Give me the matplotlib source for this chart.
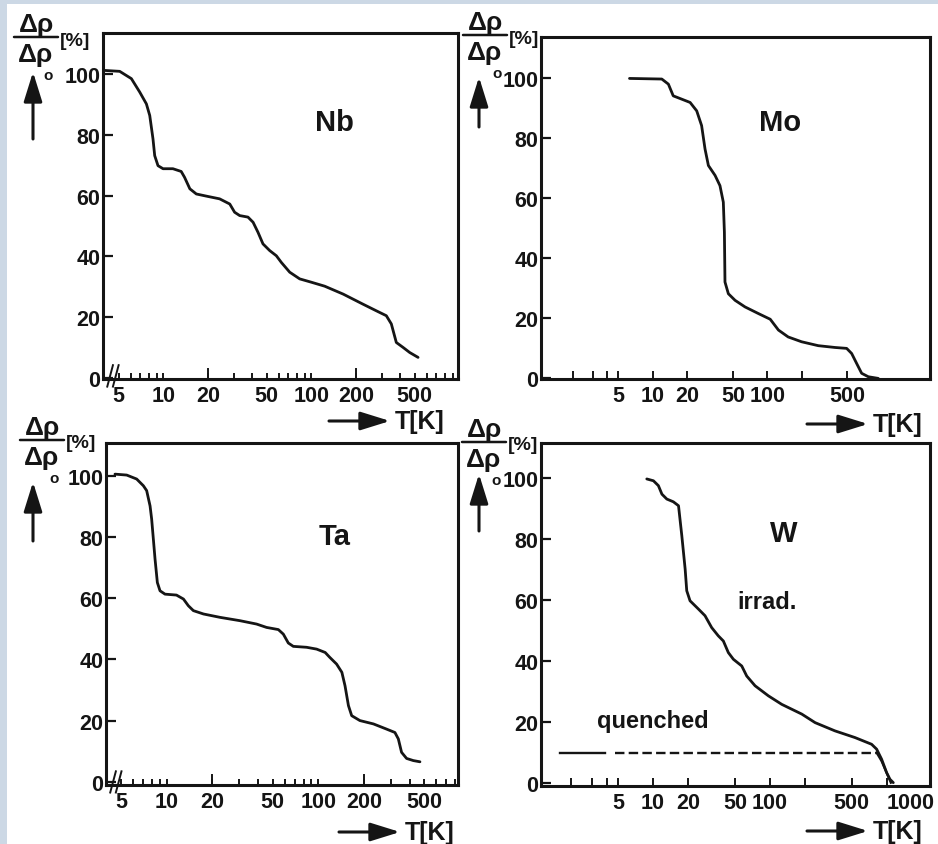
import matplotlib
matplotlib.use('Agg')
import matplotlib.pyplot as plt
import matplotlib.transforms as mtransforms
from matplotlib.patches import Rectangle
from matplotlib.ticker import FixedLocator, NullFormatter

plt.rcParams['font.family'] = ['Liberation Sans', 'DejaVu Sans']
plt.rcParams['font.weight'] = 'bold'

DPI = 100
W_PX, H_PX = 938, 845
INK = '#151515'

# isochronal annealing: annealing temperature T [K] and remaining
# resistivity increment in % of the initial value
nb_T = [4.0, 5.07, 6.08, 6.92, 7.68, 8.09, 8.51, 8.74, 9.20, 9.95,
        11.6, 13.2, 13.9, 15.1, 16.7, 19.5, 24.0, 28.1, 30.3, 32.8,
        37.3, 40.4, 43.6, 47.1, 52.3, 58.0, 62.7, 71.4, 83.4, 100,
        123, 164, 223, 275, 321, 347, 375, 416, 462, 526]
nb_R = [101.1, 100.8, 98.4, 94.0, 90.1, 86.3, 78.6, 73.1, 69.8, 68.8,
        68.8, 67.9, 66.0, 62.2, 60.5, 59.8, 58.9, 57.2, 54.5, 53.4,
        52.9, 51.2, 47.9, 44.1, 41.9, 40.2, 38.0, 34.8, 32.6, 31.5,
        30.2, 27.6, 24.3, 22.1, 20.5, 17.8, 11.7, 10.1, 8.4, 6.8]

mo_T = [6.27, 12.0, 13.7, 15.1, 17.9, 21.2, 24.2, 26.7, 28.6, 30.6,
        35.0, 38.6, 41.3, 42.2, 42.7, 45.7, 52.3, 63.9, 83.5, 106,
        113, 125, 152, 199, 278, 389, 492, 544, 601, 665,
        760, 929]
mo_R = [99.9, 99.7, 98.0, 94.1, 93.0, 91.9, 89.1, 84.2, 76.4, 70.9,
        67.6, 64.2, 58.7, 48.7, 32.1, 28.2, 26.0, 23.8, 21.6, 19.7,
        18.3, 16.1, 13.8, 12.2, 10.9, 10.3, 10.0, 8.3, 5.0, 1.7,
        0.55, 0.0]

ta_T = [4.56, 5.45, 6.34, 7.02, 7.38, 7.77, 7.96, 8.17, 8.38, 8.68,
        9.04, 9.75, 11.6, 12.9, 13.9, 15.0, 17.5, 22.5, 30.5, 39.2,
        45.6, 54.5, 58.8, 63.4, 68.4, 83.7, 97.5, 111, 119, 132,
        143, 150, 158, 166, 188, 231, 282, 320, 337, 354,
        382, 423, 468]
ta_R = [100.7, 100.4, 99.1, 96.9, 95.3, 90.3, 86.0, 79.4, 72.9, 65.2,
        62.5, 61.4, 61.1, 59.8, 57.6, 56.0, 54.9, 53.8, 52.7, 51.6,
        50.5, 49.8, 48.3, 45.4, 44.3, 44.0, 43.4, 42.3, 40.7, 38.5,
        35.8, 31.4, 24.9, 21.6, 20.0, 18.9, 17.2, 16.1, 14.0, 9.6,
        7.6, 6.9, 6.5]

w_T = [8.83, 10.07, 11.1, 11.9, 13.1, 14.9, 16.5, 17.6, 18.8, 19.4,
       20.7, 24.4, 27.8, 31.7, 36.1, 39.9, 44.0, 48.6, 57.3, 63.2,
       74.5, 96.8, 126, 187, 243, 359, 533, 739, 816, 900,
       993, 1061, 1133]
w_R = [99.7, 99.1, 97.5, 94.7, 93.1, 92.2, 90.9, 81.1, 70.1, 63.0,
       59.7, 57.0, 54.8, 50.9, 48.2, 46.5, 42.7, 40.5, 38.3, 35.0,
       31.8, 28.5, 25.7, 22.5, 19.7, 17.0, 14.8, 12.6, 11.0, 7.7,
       3.3, 1.1, 0.0]

# quenched W: flat level, then annealing out above ~800 K
wq_solid_T = [1.60, 3.89]
wq_solid_R = [9.86, 9.86]
wq_dash_T = [4.73, 816]
wq_dash_R = [9.86, 9.86]
wq_tail_T = [816, 900, 993, 1080]
wq_tail_R = [9.86, 7.1, 3.3, 0.0]

y_ticks = [0, 20, 40, 60, 80, 100]
wide_labels = [5, 10, 20, 50, 100, 200, 500]
wide_minor = [6, 7, 8, 9, 30, 40, 60, 70, 80, 90,
              300, 400, 600, 700, 800, 900]
wide_tall = [20, 200]
narrow_labels = [5, 10, 20, 50, 100, 500]
narrow_minor = [2, 3, 4, 200]


fig = plt.figure(figsize=(W_PX / DPI, H_PX / DPI), dpi=DPI,
                 facecolor='#ccd8e5')
fig.patches.append(Rectangle((7 / W_PX, 0), 1, 1 - 5 / H_PX,
                             transform=fig.transFigure, facecolor='white',
                             edgecolor='none', zorder=-5))


def px_box(left, top, right, bottom):
    return [left / W_PX, 1 - bottom / H_PX,
            (right - left) / W_PX, (bottom - top) / H_PX]


def shifted(ax, dx, dy):
    # axes coordinates, moved by a pixel offset
    return ax.transAxes + mtransforms.ScaledTranslation(
        dx / DPI, dy / DPI, fig.dpi_scale_trans)


def frame(ax, xlim, ylim):
    ax.set_xscale('log')
    ax.set_xlim(*xlim)
    ax.set_ylim(*ylim)
    for sp in ax.spines.values():
        sp.set_linewidth(2.2)
        sp.set_color(INK)
    ax.set_yticks(y_ticks)
    ax.set_yticklabels([str(v) for v in y_ticks])
    ax.tick_params(axis='y', direction='in', length=7, width=1.6,
                   pad=2, labelsize=15.5, colors=INK)
    ax.tick_params(axis='x', which='both', direction='in', width=1.4,
                   pad=4, labelsize=15.5, colors=INK)


def wide_axis(ax):
    ax.xaxis.set_major_locator(FixedLocator(wide_labels))
    ax.set_xticklabels([str(v) for v in wide_labels])
    ax.xaxis.set_minor_locator(FixedLocator(wide_minor))
    ax.xaxis.set_minor_formatter(NullFormatter())
    ax.tick_params(axis='x', which='both', length=4)
    # longer marks at 20 and 200
    for v in wide_tall:
        ax.plot([v, v], [0, 0.028], transform=ax.get_xaxis_transform(),
                color=INK, lw=1.4, clip_on=False)
    # axis break near the origin
    for x0 in (0.012, 0.028):
        ax.plot([x0, x0 + 0.016], [-0.022, 0.04], transform=ax.transAxes,
                color=INK, lw=1.4, clip_on=False)


def narrow_axis(ax, labels):
    ax.xaxis.set_major_locator(FixedLocator(labels))
    ax.set_xticklabels([str(v) for v in labels])
    ax.xaxis.set_minor_locator(FixedLocator(narrow_minor))
    ax.xaxis.set_minor_formatter(NullFormatter())
    ax.tick_params(axis='x', which='both', length=6)


def axis_titles(ax, frac_dx, frac_dy, arrow_dx, arrow_y0, arrow_y1,
                t_dx, t_dy):
    # resistivity fraction with [%] and upward arrow at the top left
    ax.text(0, 1, '\u0394\u03c1', transform=shifted(ax, frac_dx, frac_dy + 1),
            ha='center', va='bottom', fontsize=19, color=INK)
    ax.annotate('', xy=(0, 1), xycoords=shifted(ax, frac_dx + 22, frac_dy),
                xytext=(0, 1), textcoords=shifted(ax, frac_dx - 22, frac_dy),
                arrowprops=dict(arrowstyle='-', lw=1.8, color=INK,
                                shrinkA=0, shrinkB=0))
    ax.text(0, 1, '\u0394\u03c1', transform=shifted(ax, frac_dx - 1, frac_dy - 5),
            ha='center', va='top', fontsize=19, color=INK)
    ax.text(0, 1, 'o', transform=shifted(ax, frac_dx + 12, frac_dy - 31),
            ha='center', va='top', fontsize=11, color=INK)
    ax.text(0, 1, '[%]', transform=shifted(ax, frac_dx + 24, frac_dy - 3),
            ha='left', va='center', fontsize=14, color=INK)
    ax.annotate('', xy=(0, 1), xycoords=shifted(ax, arrow_dx, arrow_y1),
                xytext=(0, 1), textcoords=shifted(ax, arrow_dx, arrow_y0),
                arrowprops=dict(arrowstyle='-|>,head_length=0.9,head_width=0.28',
                                mutation_scale=20, lw=2.2, color=INK,
                                shrinkA=0, shrinkB=0))
    # temperature arrow at the bottom right
    ax.annotate('', xy=(1, 0), xycoords=shifted(ax, t_dx - 5, t_dy),
                xytext=(1, 0), textcoords=shifted(ax, t_dx - 66, t_dy),
                arrowprops=dict(arrowstyle='-|>,head_length=0.9,head_width=0.28',
                                mutation_scale=20, lw=2.2, color=INK,
                                shrinkA=0, shrinkB=0))
    ax.text(1, 0, 'T[K]', transform=shifted(ax, t_dx, t_dy),
            ha='left', va='center', fontsize=18, color=INK)


ax_nb = fig.add_axes(px_box(103, 34, 458, 380))
ax_mo = fig.add_axes(px_box(541, 38, 930, 380))
ax_ta = fig.add_axes(px_box(106, 444, 458, 786))
ax_w = fig.add_axes(px_box(541, 444, 930, 787))

line_kw = dict(color=INK, lw=2.0, solid_joinstyle='round',
               solid_capstyle='round')

ax_nb.plot(nb_T, nb_R, **line_kw)
frame(ax_nb, (3.91, 979), (-0.3, 113.4))
wide_axis(ax_nb)
ax_nb.text(144, 84.1, 'Nb', ha='center', va='center', fontsize=21, color=INK)
axis_titles(ax_nb, -67, -4, -70, -106, -39, -63, -42)

ax_mo.plot(mo_T, mo_R, **line_kw)
frame(ax_mo, (1.06, 2625), (-0.2, 113.7))
narrow_axis(ax_mo, narrow_labels)
ax_mo.text(129, 85.3, 'Mo', ha='center', va='center', fontsize=21, color=INK)
axis_titles(ax_mo, -56, 2, -62, -90, -40, -57, -45)

ax_ta.plot(ta_T, ta_R, **line_kw)
frame(ax_ta, (3.98, 834), (-1.1, 110.9))
wide_axis(ax_ta)
ax_ta.text(129, 80.5, 'Ta', ha='center', va='center', fontsize=21, color=INK)
axis_titles(ax_ta, -64, 3, -73, -98, -39, -53, -47)

ax_w.plot(w_T, w_R, **line_kw)
ax_w.plot(wq_solid_T, wq_solid_R, color=INK, lw=1.7)
ax_w.plot(wq_dash_T, wq_dash_R, color=INK, lw=1.7, dashes=(4, 1.8))
ax_w.plot(wq_tail_T, wq_tail_R, color=INK, lw=1.7)
frame(ax_w, (1.10, 2334), (-1.1, 111.5))
narrow_axis(ax_w, narrow_labels + [1000])
ax_w.get_xticklabels()[-1].set_ha('left')
ax_w.text(130, 82.1, 'W', ha='center', va='center', fontsize=21, color=INK)
ax_w.text(93.5, 59.4, 'irrad.', ha='center', va='center', fontsize=17,
          color=INK)
ax_w.text(9.9, 20.3, 'quenched', ha='center', va='center', fontsize=17,
          color=INK)
axis_titles(ax_w, -57, 1, -62, -88, -31, -57, -45)

fig.savefig('out.png', dpi=DPI, facecolor=fig.get_facecolor())
